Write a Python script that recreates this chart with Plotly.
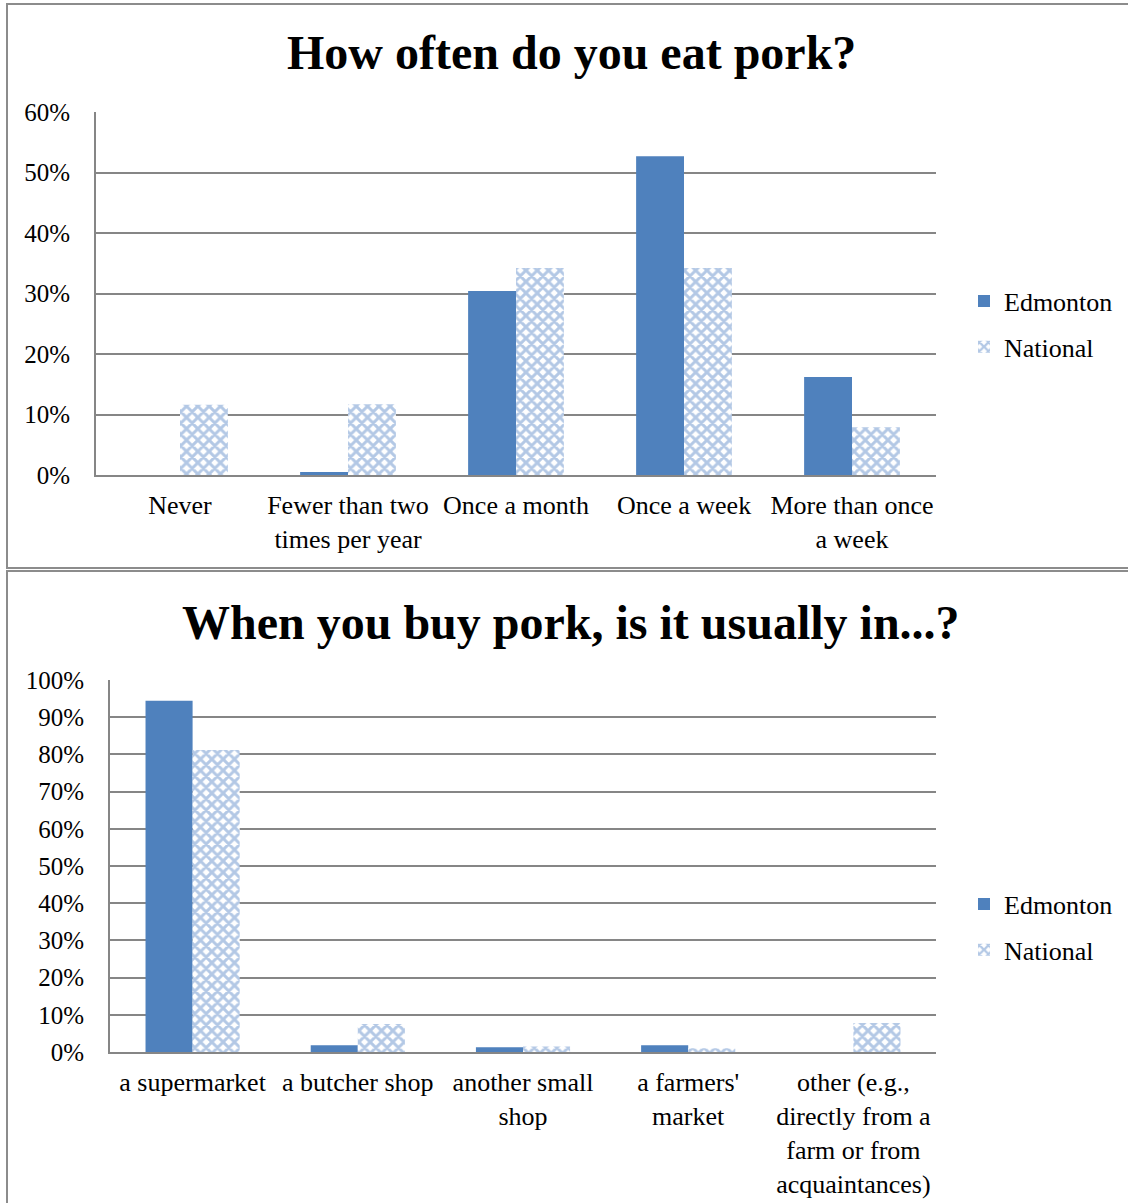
import plotly.graph_objects as go

# Survey results: how often people eat pork
freq_categories = ["Never", "Fewer than two<br>times per year", "Once a month",
                   "Once a week", "More than once<br>a week"]
freq_edmonton = [0.0, 0.005, 0.304, 0.527, 0.162]
freq_national = [0.116, 0.117, 0.342, 0.342, 0.079]

# Survey results: where pork is usually bought
shop_categories = ["a supermarket", "a butcher shop", "another small<br>shop",
                   "a farmers'<br>market",
                   "other (e.g.,<br>directly from a<br>farm or from<br>acquaintances)"]
shop_edmonton = [0.944, 0.018, 0.013, 0.018, 0.0]
shop_national = [0.812, 0.075, 0.015, 0.010, 0.078]

series_names = ["Edmonton", "National"]

W, H = 1128, 1203
FONT = "Liberation Serif, Times New Roman, serif"
EDM_COLOR = "#4F81BD"
GRID = "#868686"


def px_x(p):
    return p / W


def px_y(p):
    return 1 - p / H


national_marker = dict(
    color="white",
    pattern=dict(shape="x", fgcolor="#6791CC", bgcolor="white", size=8, solidity=0.6),
    line=dict(width=0),
)

fig = go.Figure()

fig.add_trace(go.Bar(x=freq_categories, y=freq_edmonton, name=series_names[0],
                     marker=dict(color=EDM_COLOR, line=dict(width=0)),
                     xaxis="x", yaxis="y", legend="legend", legendgroup="e1"))
fig.add_trace(go.Bar(x=freq_categories, y=freq_national, name=series_names[1],
                     marker=national_marker,
                     xaxis="x", yaxis="y", legend="legend", legendgroup="n1"))
fig.add_trace(go.Bar(x=shop_categories, y=shop_edmonton, name=series_names[0],
                     marker=dict(color=EDM_COLOR, line=dict(width=0)),
                     xaxis="x2", yaxis="y2", legend="legend2", legendgroup="e2"))
fig.add_trace(go.Bar(x=shop_categories, y=shop_national, name=series_names[1],
                     marker=national_marker,
                     xaxis="x2", yaxis="y2", legend="legend2", legendgroup="n2"))

x_tick_font = dict(family=FONT, size=26, color="black")
y_tick_font = dict(family=FONT, size=25, color="black")

xaxis_common = dict(showline=True, linecolor=GRID, linewidth=2, ticks="",
                    tickfont=x_tick_font, showgrid=False, fixedrange=True,
                    automargin=False, ticklabelstandoff=6)
yaxis_common = dict(showline=True, linecolor=GRID, linewidth=2, showgrid=True,
                    gridcolor=GRID, gridwidth=2, zeroline=False, tickformat=".0%",
                    tickfont=y_tick_font, ticks="", ticklabelstandoff=19,
                    fixedrange=True, automargin=False)

legend_common = dict(font=dict(family=FONT, size=26, color="black"),
                     bgcolor="rgba(0,0,0,0)", traceorder="grouped",
                     tracegroupgap=9, itemclick=False, itemdoubleclick=False,
                     itemwidth=30, xanchor="left", yanchor="middle")

title_font = dict(family=FONT, size=48, color="black")

fig.update_layout(
    width=W, height=H,
    margin=dict(l=0, r=0, t=0, b=0, autoexpand=False),
    paper_bgcolor="white", plot_bgcolor="white",
    barmode="group", bargap=0.43, bargroupgap=0,
    showlegend=True,
    xaxis=dict(domain=[px_x(96), px_x(936)], anchor="y", **xaxis_common),
    yaxis=dict(domain=[px_y(475), px_y(112)], anchor="x", range=[0, 0.6],
               dtick=0.1, **yaxis_common),
    xaxis2=dict(domain=[px_x(110), px_x(936)], anchor="y2", **xaxis_common),
    yaxis2=dict(domain=[px_y(1052), px_y(680)], anchor="x2", range=[0, 1.0],
                dtick=0.1, **yaxis_common),
    legend=dict(x=px_x(964), y=px_y(324), **legend_common),
    legend2=dict(x=px_x(964), y=px_y(927), **legend_common),
    annotations=[
        dict(text="<b>How often do you eat pork?</b>", x=px_x(571), y=px_y(53),
             xref="paper", yref="paper", xanchor="center", yanchor="middle",
             showarrow=False, font=title_font),
        dict(text="<b>When you buy pork, is it usually in...?</b>", x=px_x(571),
             y=px_y(622), xref="paper", yref="paper", xanchor="center",
             yanchor="middle", showarrow=False, font=title_font),
    ],
    shapes=[
        dict(type="rect", xref="paper", yref="paper", x0=px_x(7), x1=px_x(1140),
             y0=px_y(568), y1=px_y(4), line=dict(color="#8C8C8C", width=2)),
        dict(type="rect", xref="paper", yref="paper", x0=px_x(7), x1=px_x(1140),
             y0=px_y(1215), y1=px_y(571), line=dict(color="#8C8C8C", width=2)),
    ],
)

fig.write_html("out.html")
